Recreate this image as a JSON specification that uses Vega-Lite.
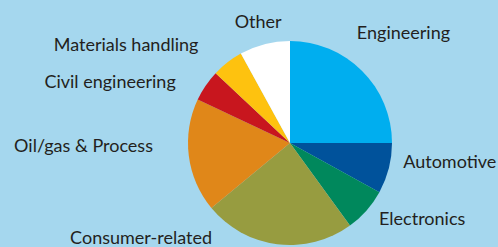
{
  "$schema": "https://vega.github.io/schema/vega-lite/v6.json",
  "autosize": "none",
  "width": 416,
  "height": 204,
  "padding": {"left": 82, "top": 41, "right": 0, "bottom": 2},
  "background": "#A5D7EE",
  "view": {"stroke": null},
  "config": {"text": {"font": "Lato", "fontSize": 18, "color": "#231F20", "baseline": "alphabetic", "radius": 120}},
  "data": {
    "values": [
      {"rank": 1, "sector": "Engineering", "share": 25},
      {"rank": 2, "sector": "Automotive", "share": 8},
      {"rank": 3, "sector": "Electronics", "share": 7},
      {"rank": 4, "sector": "Consumer-related", "share": 24},
      {"rank": 5, "sector": "Oil/gas & Process", "share": 18},
      {"rank": 6, "sector": "Civil engineering", "share": 5},
      {"rank": 7, "sector": "Materials handling", "share": 5},
      {"rank": 8, "sector": "Other", "share": 8}
    ]
  },
  "encoding": {
    "theta": {"field": "share", "type": "quantitative", "stack": true},
    "order": {"field": "rank", "type": "quantitative"}
  },
  "layer": [
    {
      "mark": {"type": "arc", "strokeWidth": 0},
      "encoding": {
        "color": {
          "field": "sector",
          "type": "nominal",
          "sort": null,
          "legend": null,
          "scale": {
            "domain": ["Engineering", "Automotive", "Electronics", "Consumer-related", "Oil/gas & Process", "Civil engineering", "Materials handling", "Other"],
            "range": ["#00AEEF", "#00529B", "#00885C", "#979C40", "#E08719", "#C8161E", "#FEC20F", "#FFFFFF"]
          }
        }
      }
    },
    {
      "mark": {"type": "text", "align": "left", "dx": -18, "dy": -19},
      "encoding": {"text": {"condition": {"test": "datum.sector == 'Engineering'", "field": "sector"}, "value": ""}}
    },
    {
      "mark": {"type": "text", "align": "left", "dx": -3, "dy": -5},
      "encoding": {"text": {"condition": {"test": "datum.sector == 'Automotive'", "field": "sector"}, "value": ""}}
    },
    {
      "mark": {"type": "text", "align": "left", "dx": -1, "dy": 3},
      "encoding": {"text": {"condition": {"test": "datum.sector == 'Electronics'", "field": "sector"}, "value": ""}}
    },
    {
      "mark": {"type": "text", "align": "right", "dx": -63, "dy": -18},
      "encoding": {"text": {"condition": {"test": "datum.sector == 'Consumer-related'", "field": "sector"}, "value": ""}}
    },
    {
      "mark": {"type": "text", "align": "right", "dx": -18, "dy": -6},
      "encoding": {"text": {"condition": {"test": "datum.sector == 'Oil/gas & Process'", "field": "sector"}, "value": ""}}
    },
    {
      "mark": {"type": "text", "align": "right", "dx": -15, "dy": 12},
      "encoding": {"text": {"condition": {"test": "datum.sector == 'Civil engineering'", "field": "sector"}, "value": ""}}
    },
    {
      "mark": {"type": "text", "align": "right", "dx": -18, "dy": 3},
      "encoding": {"text": {"condition": {"test": "datum.sector == 'Materials handling'", "field": "sector"}, "value": ""}}
    },
    {
      "mark": {"type": "text", "align": "center", "dx": -2, "dy": 1},
      "encoding": {"text": {"condition": {"test": "datum.sector == 'Other'", "field": "sector"}, "value": ""}}
    }
  ]
}
